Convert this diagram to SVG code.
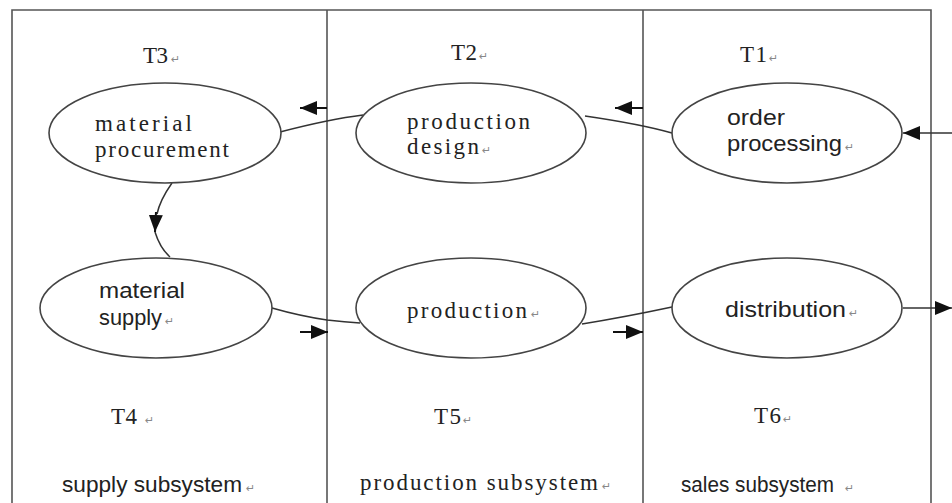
<svg xmlns="http://www.w3.org/2000/svg" width="952" height="503" viewBox="0 0 952 503">
  <style>
    .frame { fill: none; stroke: #555; stroke-width: 1.6; }
    .node ellipse { fill: #fff; stroke: #444; stroke-width: 1.6; }
    .mono { font-family: "Liberation Serif", "DejaVu Serif", serif; font-size: 23px; fill: #222; }
    .sans { font-family: "Liberation Sans", Arial, sans-serif; font-size: 22px; fill: #222; }
    .pm { font-family: "DejaVu Sans", sans-serif; font-size: 11px; fill: #888; }
    .wire { fill: none; stroke: #333; stroke-width: 1.5; }
    .stub { fill: none; stroke: #111; stroke-width: 2; }
  </style>
  <defs>
    <marker id="head" markerUnits="userSpaceOnUse" markerWidth="18" markerHeight="16" refX="17" refY="8" orient="auto">
      <path d="M0,1 L17,8 L0,15 Z" fill="#111"/>
    </marker>
  </defs>

  <rect width="952" height="503" fill="#fff"/>

  <!-- subsystem columns -->
  <g id="columns">
    <path class="frame" d="M12,515 V10 H931 V515"/>
    <line class="frame" x1="327" y1="10" x2="327" y2="515"/>
    <line class="frame" x1="643" y1="10" x2="643" y2="515"/>
  </g>

  <!-- column labels -->
  <g id="labels">
    <text class="mono" x="143" y="63" textLength="25" lengthAdjust="spacing">T3</text>
    <text class="pm" x="171" y="63">↵</text>
    <text class="mono" x="451" y="60" textLength="26" lengthAdjust="spacing">T2</text>
    <text class="pm" x="479" y="60">↵</text>
    <text class="mono" x="740" y="62" textLength="27" lengthAdjust="spacing">T1</text>
    <text class="pm" x="769" y="62">↵</text>

    <text class="mono" x="111" y="424" textLength="26" lengthAdjust="spacing">T4</text>
    <text class="pm" x="145" y="424">↵</text>
    <text class="mono" x="434" y="424" textLength="27" lengthAdjust="spacing">T5</text>
    <text class="pm" x="463" y="424">↵</text>
    <text class="mono" x="754" y="423" textLength="27" lengthAdjust="spacing">T6</text>
    <text class="pm" x="783" y="423">↵</text>

    <text class="sans" x="62" y="492" textLength="180" lengthAdjust="spacingAndGlyphs">supply subsystem</text>
    <text class="pm" x="246" y="492">↵</text>
    <text class="mono" x="360" y="490" textLength="238" lengthAdjust="spacing">production subsystem</text>
    <text class="pm" x="602" y="490">↵</text>
    <text class="sans" x="681" y="492" textLength="153" lengthAdjust="spacingAndGlyphs">sales subsystem</text>
    <text class="pm" x="845" y="492">↵</text>
  </g>

  <!-- connectors -->
  <g id="connectors">
    <!-- incoming order -->
    <line class="wire" x1="952" y1="133" x2="903" y2="133" marker-end="url(#head)"/>
    <!-- order processing -> production design -->
    <path class="wire" d="M672,133 Q640,124 585,116"/>
    <line class="stub" x1="643" y1="108" x2="615" y2="108" marker-end="url(#head)"/>
    <!-- production design -> material procurement -->
    <path class="wire" d="M363,115 Q330,119 280,132"/>
    <line class="stub" x1="327" y1="108" x2="300" y2="108" marker-end="url(#head)"/>
    <!-- material procurement -> material supply -->
    <path class="wire" d="M172,183 Q160,200 157,214"/>
    <line class="stub" x1="156" y1="212" x2="155" y2="232" marker-end="url(#head)"/>
    <path class="wire" d="M155,232 Q160,248 170,257"/>
    <!-- material supply -> production -->
    <path class="wire" d="M272,308 Q300,316 327,320 Q345,322 360,323"/>
    <line class="stub" x1="300" y1="332" x2="328" y2="332" marker-end="url(#head)"/>
    <!-- production -> distribution -->
    <path class="wire" d="M582,324 Q625,317 672,307"/>
    <line class="stub" x1="613" y1="332" x2="643" y2="332" marker-end="url(#head)"/>
    <!-- outgoing delivery -->
    <line class="wire" x1="903" y1="308" x2="952" y2="308" marker-end="url(#head)"/>
  </g>

  <!-- supply subsystem -->
  <g id="material-procurement" class="node">
    <ellipse cx="165" cy="133" rx="116" ry="50"/>
    <text class="mono" x="95" y="131" textLength="97" lengthAdjust="spacing">material</text>
    <text class="mono" x="95" y="157" textLength="134" lengthAdjust="spacing">procurement</text>
  </g>
  <g id="material-supply" class="node">
    <ellipse cx="156" cy="308" rx="116" ry="50"/>
    <text class="sans" x="99" y="298" textLength="86" lengthAdjust="spacingAndGlyphs">material</text>
    <text class="sans" x="99" y="325" textLength="63" lengthAdjust="spacingAndGlyphs">supply</text>
    <text class="pm" x="165" y="325">↵</text>
  </g>

  <!-- production subsystem -->
  <g id="production-design" class="node">
    <ellipse cx="471" cy="133" rx="115" ry="50"/>
    <text class="mono" x="407" y="129" textLength="123" lengthAdjust="spacing">production</text>
    <text class="mono" x="407" y="154" textLength="72" lengthAdjust="spacing">design</text>
    <text class="pm" x="482" y="154">↵</text>
  </g>
  <g id="production" class="node">
    <ellipse cx="471" cy="308" rx="115" ry="50"/>
    <text class="mono" x="407" y="318" textLength="120" lengthAdjust="spacing">production</text>
    <text class="pm" x="531" y="318">↵</text>
  </g>

  <!-- sales subsystem -->
  <g id="order-processing" class="node">
    <ellipse cx="787" cy="133" rx="115" ry="50"/>
    <text class="sans" x="727" y="125" textLength="58" lengthAdjust="spacingAndGlyphs">order</text>
    <text class="sans" x="727" y="151" textLength="115" lengthAdjust="spacingAndGlyphs">processing</text>
    <text class="pm" x="845" y="151">↵</text>
  </g>
  <g id="distribution" class="node">
    <ellipse cx="787" cy="308" rx="115" ry="50"/>
    <text class="sans" x="725" y="317" textLength="121" lengthAdjust="spacingAndGlyphs">distribution</text>
    <text class="pm" x="849" y="317">↵</text>
  </g>
</svg>
